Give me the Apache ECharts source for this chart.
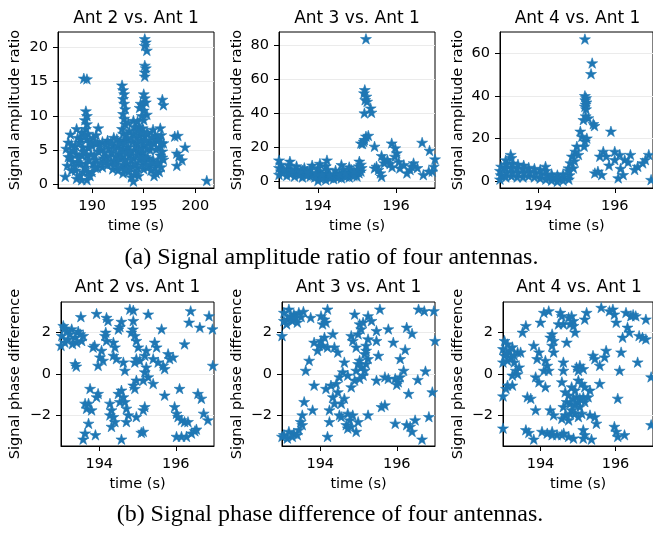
<!DOCTYPE html>
<html><head><meta charset="utf-8">
<script src="https://cdn.jsdelivr.net/npm/echarts@6/dist/echarts.min.js"></script>
<style>html,body{margin:0;padding:0;background:#fff}#c{width:653px;height:536px}</style>
</head><body><div id="c"></div>
<script>
const titles = ['Ant 2 vs. Ant 1','Ant 3 vs. Ant 1','Ant 4 vs. Ant 1'];
const captions = ['(a) Signal amplitude ratio of four antennas.','(b) Signal phase difference of four antennas.'];
const xLabel = 'time (s)';
const yLabels = ['Signal amplitude ratio','Signal phase difference'];
const xTicksWide = [190,195,200];
const xTicks = [194,196];
const yTicksAmp2 = [0,5,10,15,20];
const yTicksAmp3 = [0,20,40,60,80];
const yTicksAmp4 = [0,20,40,60];
const yTicksPhase = [-2,0,2];

const amp2 = [
[187.4,1.1],[189.2,15.5],[189.5,15.4],[195.1,21.3],[195.2,20.8],[195.1,20.3],[195.3,19.6],[195.1,17.4],[195.2,17.0],[195.1,16.4],[195.1,15.8],[196.8,12.4],[196.9,11.6],[198.0,7.0],[198.3,7.1],[199.0,5.4],[198.2,4.5],[198.4,4.1],[198.7,3.5],[198.2,2.7],[201.1,0.5],
[192.9,14.5],[193.0,13.8],[193.1,13.2],[193.0,12.5],[193.1,11.8],[193.2,11.0],[193.0,10.3],[193.1,9.6],[193.2,8.8],[192.9,8.1],
[195.0,13.2],[195.1,12.6],[195.2,12.0],[194.9,11.5],[195.0,10.8],[194.7,11.8],[194.6,11.2],[195.3,10.2],[194.8,10.0],[195.0,9.4],[194.4,9.2],
[189.4,10.7],[189.5,10.0],[189.3,9.4],[189.5,8.8],[189.4,8.1],[194.0,9.3],[193.5,9.0],
[187.6,2.7],[187.7,4.0],[187.5,5.2],[187.7,6.1],
[188.0,2.0],[188.1,3.3],[187.9,4.6],[188.0,5.8],[187.9,7.3],
[188.5,0.8],[188.4,2.0],[188.6,3.2],[188.5,4.4],[188.4,5.6],[188.6,6.8],[188.5,8.1],
[189.0,0.6],[189.1,1.8],[188.9,3.0],[189.0,4.2],[189.1,5.4],[188.9,6.6],[189.0,7.6],
[189.5,0.6],[189.6,1.8],[189.4,3.0],[189.5,4.2],[189.6,5.4],[189.5,6.6],[189.6,7.4],
[190.0,1.8],[190.1,3.0],[189.9,4.4],[190.0,5.6],[190.1,6.8],
[190.5,2.4],[190.4,3.6],[190.6,4.8],[190.5,6.0],[190.4,7.2],[190.6,8.2],
[191.0,2.5],[191.1,3.8],[190.9,5.0],[191.0,6.2],
[191.5,2.8],[191.4,4.0],[191.6,5.2],[191.5,6.4],
[192.0,2.2],[192.1,3.4],[191.9,4.6],[192.0,5.8],[192.1,6.8],
[192.5,2.0],[192.4,3.2],[192.6,4.4],[192.5,5.6],[192.4,6.6],
[193.0,1.6],[193.1,2.8],[192.9,4.0],[193.0,5.2],[193.1,6.4],[193.0,7.4],
[193.5,1.8],[193.4,3.0],[193.6,4.2],[193.5,5.4],[193.4,6.6],[193.6,7.8],
[194.0,0.4],[194.1,1.4],[193.9,2.6],[194.0,3.8],[194.1,5.0],[193.9,6.2],[194.0,7.4],[194.1,8.4],
[194.5,1.2],[194.4,2.4],[194.6,3.6],[194.5,4.8],[194.4,6.0],[194.6,7.2],[194.5,8.4],
[195.0,2.2],[195.1,3.4],[194.9,4.6],[195.0,5.8],[195.1,7.0],[194.9,8.2],
[195.5,2.6],[195.4,3.8],[195.6,5.0],[195.5,6.2],[195.4,7.4],
[196.0,1.2],[196.1,2.4],[195.9,3.6],[196.0,6.0],[196.1,7.2],[195.9,8.0],
[196.5,1.8],[196.4,3.0],[196.6,4.2],[196.5,5.4],[196.4,6.6],[196.6,8.2],
[196.9,3.6],[196.8,4.8],[196.9,6.0],
[187.9,3.9],[188.3,2.6],[188.2,5.0],[188.8,1.2],[188.7,3.8],[188.8,6.1],[189.3,2.4],[189.2,4.8],[189.3,7.0],[189.8,1.2],[189.7,3.6],[189.8,6.0],[190.3,2.4],[190.2,4.2],[190.3,6.2],[190.8,3.1],[190.7,5.5],[191.3,3.3],[191.2,4.6],[191.3,5.8],[191.8,3.0],[191.7,4.1],[191.8,6.0],[192.2,2.8],[192.3,4.0],[192.2,5.2],[192.8,2.4],[192.7,3.8],[192.8,5.0],[192.7,6.1],[193.3,2.2],[193.2,3.5],[193.3,4.7],[193.2,6.0],[193.3,7.2],[193.8,1.0],[193.7,2.4],[193.8,3.6],[193.7,4.8],[193.8,6.8],[194.3,1.8],[194.2,3.0],[194.3,4.3],[194.2,5.5],[194.3,6.8],[194.3,7.9],[194.8,2.8],[194.7,4.0],[194.8,5.3],[194.7,6.5],[194.8,7.6],[195.3,2.8],[195.2,4.0],[195.3,5.2],[195.2,6.4],[195.3,7.6],[195.7,2.0],[195.8,3.2],[195.7,5.6],[195.8,6.8],[196.2,1.6],[196.3,3.2],[196.2,5.1],[196.3,6.4],[196.7,2.5],[196.8,3.9],[196.7,6.0],[196.7,7.2]
];

const amp3 = [
[195.23,83.9],[195.2,53.9],[195.18,52.0],[195.24,50.0],[195.21,48.0],[195.26,47.0],[195.19,40.2],[195.37,40.6],[195.35,43.1],
[195.1,22.5],[195.17,23.5],[195.23,26.5],[195.29,27.0],[195.19,24.5],[195.14,22.2],[195.45,20.6],[195.63,15.1],[195.7,12.7],[195.89,22.5],[196.02,16.7],[195.98,19.6],[195.7,10.8],[195.78,12.7],[195.5,8.8],[195.55,6.9],[195.63,2.9],[195.6,4.9],[195.45,7.8],
[196.67,22.9],[196.86,18.2],[197.0,13.1],[196.45,10.8],[196.36,6.9],[196.28,4.9],[196.1,7.8],[196.2,9.8],[196.07,11.5],[196.7,3.9],[196.84,5.9],[196.93,5.9],[196.97,8.8],[195.97,14.7],[195.85,10.5],[196.55,8.0],[195.9,8.5],[196.4,8.8],
[193.0,4.0],[193.05,6.0],[193.0,8.0],[193.05,10.0],[193.0,12.5],
[193.2,3.5],[193.25,5.5],[193.2,7.5],[193.25,9.5],[193.28,11.8],
[193.4,3.0],[193.45,5.0],[193.4,7.0],[193.45,9.0],
[193.6,2.5],[193.65,4.5],[193.6,6.5],[193.65,8.0],
[193.8,3.0],[193.85,5.0],[193.8,7.0],[193.85,9.5],
[194.0,0.5],[194.05,2.0],[194.0,4.0],[194.05,6.0],[194.0,8.0],[194.05,10.5],
[194.2,1.0],[194.25,3.0],[194.2,5.0],[194.25,7.0],[194.2,9.0],[194.23,12.5],
[194.4,1.5],[194.45,3.0],[194.4,4.5],[194.45,6.5],
[194.6,2.0],[194.65,3.5],[194.6,5.0],[194.65,7.0],[194.6,9.8],
[194.8,2.5],[194.85,4.0],[194.8,5.5],[194.85,7.0],[194.8,8.5],
[195.0,3.0],[195.05,5.0],[195.0,7.0],[195.05,9.0],[195.06,11.8],
[195.1,6.0],[195.12,8.0],[195.1,10.0],
[193.1,5.0],[193.12,7.0],[193.3,4.4],[193.33,6.5],[193.52,3.8],[193.55,6.0],[193.72,3.6],[193.73,6.0],[193.92,2.5],[193.95,5.0],[194.12,2.0],[194.1,4.2],[194.32,2.2],[194.3,4.0],[194.52,2.5],[194.55,4.2],[194.72,3.0],[194.7,5.0],[194.92,3.5],[194.92,6.0]
];

const amp4 = [
[195.22,66.5],[195.41,55.3],[195.38,50.3],[195.22,40.0],[195.25,39.0],[195.23,38.0],[195.26,37.0],[195.24,36.0],[195.22,35.0],[195.25,33.8],[195.18,28.8],[195.31,29.6],[195.24,30.5],[195.47,26.0],[195.44,26.9],[195.1,23.4],[195.14,21.0],[195.27,20.2],[195.2,16.4],[195.22,18.7],[195.01,16.4],[194.97,14.0],[194.88,11.7],[194.84,8.6],[194.79,6.2],[194.92,6.2],[194.95,9.5],[195.05,12.5],
[195.9,23.4],[195.7,14.0],[195.78,11.7],[195.61,11.7],[195.48,3.9],[195.56,4.7],[195.66,3.1],[196.0,14.0],[196.13,12.5],[196.0,10.1],[196.26,10.1],[196.41,12.5],[196.35,9.0],[196.09,1.6],[196.22,3.1],[196.6,7.0],[196.73,8.6],[196.8,10.1],[196.89,12.5],[196.95,0.8],[196.52,5.5],[195.85,7.5],[196.15,6.0],
[193.0,1.0],[193.02,3.0],[193.0,5.0],[193.03,7.0],
[193.15,2.0],[193.17,4.0],[193.15,6.0],[193.17,8.0],[193.15,10.0],
[193.3,2.5],[193.32,4.5],[193.3,6.5],[193.32,8.5],[193.3,11.0],[193.28,12.5],
[193.45,2.0],[193.47,4.0],[193.45,6.0],[193.47,8.0],
[193.6,2.0],[193.62,4.0],[193.6,6.0],[193.62,7.5],
[193.75,2.5],[193.77,4.5],[193.75,6.5],
[193.9,2.0],[193.92,4.0],[193.9,6.0],
[194.05,1.5],[194.07,3.5],[194.05,5.5],
[194.2,1.0],[194.22,3.0],[194.2,5.0],[194.19,7.0],
[194.35,0.5],[194.37,2.0],[194.35,3.5],
[194.5,0.0],[194.52,1.5],[194.5,3.0],
[194.65,0.5],[194.67,2.0],[194.65,3.5],
[194.8,1.0],[194.82,3.0],[194.8,5.0]
];

const ph2 = [
[193.06,2.32],[193.15,2.08],[193.02,1.84],[193.23,1.92],[193.37,1.76],[193.5,1.92],[193.54,1.6],[193.28,2.16],[193.1,1.52],[193.41,1.52],[193.0,1.37],[193.19,1.68],[193.58,1.84],[193.1,2.2],[193.3,1.45],[193.45,2.05],
[193.37,0.49],[193.4,0.37],[193.52,2.75],[193.93,2.9],[194.19,2.71],[194.23,2.56],[194.54,2.27],[194.58,2.52],[194.5,2.15],[194.8,3.11],[194.89,3.06],[194.89,2.56],[194.84,2.0],[194.93,1.84],[194.88,2.15],[195.28,2.87],[195.63,2.16],[196.39,3.03],[196.35,2.48],[196.63,2.24],[196.87,2.79],[196.96,2.16],[196.97,0.41],[196.23,1.44],
[193.84,1.29],[193.88,1.37],[194.15,1.84],[194.19,1.6],[194.17,2.0],[194.06,1.13],[194.02,0.81],[194.1,0.65],[193.97,0.41],[194.37,1.52],[194.41,1.29],[194.37,0.89],[194.45,0.73],[194.63,0.57],[194.67,0.17],[194.97,1.6],[195.02,1.29],[194.97,0.73],[195.06,0.65],[194.93,0.57],[195.23,1.13],[195.19,0.89],[195.45,1.52],[195.5,1.29],[195.41,0.73],[195.54,0.57],[195.23,0.33],[195.19,0.1],[195.28,-0.14],[195.15,-0.3],[195.8,0.97],[195.84,0.73],[195.67,0.41],[195.71,0.25],[195.93,0.81],
[194.97,-0.3],[194.93,-0.7],[194.89,-0.54],[195.41,-0.46],[195.71,-1.02],[196.1,-0.7],[193.76,-0.7],[193.97,-0.94],[193.93,-1.1],[193.72,-1.41],[193.67,-1.65],[193.8,-1.73],[193.63,-1.41],[194.5,-0.94],[194.58,-0.78],[194.63,-1.1],[194.54,-1.33],[194.67,-1.33],[194.28,-1.41],[194.32,-1.73],[194.37,-2.05],[194.41,-2.29],[194.71,-1.65],[194.76,-1.97],[194.71,-2.29],[194.97,-2.05],[195.15,-1.73],[195.19,-1.57],[194.28,-1.97],[193.72,-2.37],[194.32,-2.52],[193.63,-2.84],[193.58,-3.13],[193.9,-2.92],[194.58,-3.13],[195.1,-2.81],[195.15,-2.76],[195.97,-1.57],[196.02,-1.89],[196.06,-2.05],[196.15,-2.21],[196.23,-2.29],[196.32,-2.29],[196.02,-3.0],[196.15,-3.0],[196.28,-3.0],[196.41,-2.84],[196.5,-2.73],[196.54,-2.65],[196.58,-0.94],[196.67,-1.17],[196.73,-1.89],[196.84,-2.21]
];

const ph3 = [
[193.05,2.95],[193.18,3.11],[193.31,2.87],[193.44,2.95],[193.56,3.0],[193.14,2.63],[193.27,2.56],[193.4,2.48],[193.05,2.56],[193.22,2.79],[193.0,1.84],[193.12,2.4],[193.35,2.7],[193.5,2.75],
[193.75,2.71],[194.19,3.11],[194.02,2.79],[194.15,2.48],[194.06,2.4],[194.11,2.63],
[193.84,1.52],[193.93,1.13],[194.02,1.6],[194.11,1.76],[194.06,1.37],[193.97,1.37],[194.19,1.29],[194.33,1.92],[194.37,1.29],[194.46,1.05],
[193.71,0.65],[193.62,0.17],[193.84,-0.54],[193.58,-1.33],[193.53,-1.97],[193.49,-2.29],[193.8,-1.73],
[193.05,-2.92],[193.18,-2.76],[193.31,-2.84],[193.44,-2.68],[193.14,-3.08],[193.27,-3.0],[193.4,-2.92],[193.53,-2.44],[193.0,-3.0],
[194.19,-3.0],[194.24,-2.29],[194.5,-1.97],[194.24,-1.73],[194.37,-1.41],[194.33,-1.1],[194.46,-0.86],[194.15,-0.7],[194.28,-0.54],[194.42,-0.46],[194.55,-1.41],[194.63,-1.17],[194.72,-1.89],[194.77,-2.21],[194.68,-2.44],[194.81,-2.52],[194.72,-2.6],[194.55,-2.05],[194.99,-2.29],[194.85,-1.97],[194.94,-2.76],[195.25,-1.97],
[194.59,0.1],[194.63,0.57],[194.5,-0.14],[194.72,-0.06],[194.81,-0.62],[194.9,-0.3],[194.94,0.17],[194.99,0.49],[195.03,0.65],[195.07,0.33],[195.16,0.17],[195.2,0.49],[195.12,-0.06],[195.03,-0.22],[195.25,0.73],[195.16,0.97],[195.2,1.13],
[194.81,1.84],[194.85,1.6],[194.94,1.29],[194.99,1.92],[195.07,2.16],[195.03,2.4],[195.12,2.48],[194.9,2.87],[195.25,2.79],[195.34,2.56],[195.47,2.08],[195.56,3.11],[195.25,1.68],[195.47,1.6],[195.2,1.37],[195.52,0.89],[195.47,-0.3],[195.69,-0.14],[195.78,-0.22],[195.6,-1.57],[195.69,-1.49],[195.78,2.16],[195.91,1.52],[196.09,0.73],[196.18,0.17],[195.96,-0.22],[196.04,-0.38],[196.09,-0.14],[196.0,-0.5],[195.96,-2.37],[196.26,2.24],[196.4,1.95],[196.22,1.17],[196.31,-0.94],[196.26,-2.44],[196.35,-2.52],[196.4,-2.76],[196.48,-2.21],[196.55,-0.27],[196.57,3.11],[196.72,3.03],[196.75,0.14],[196.66,-3.13],[196.84,-2.05],[196.93,-0.86],[196.97,3.03],[197.0,1.6]
];

const ph4 = [
[193.04,1.6],[193.12,1.44],[193.0,1.21],[193.17,1.13],[193.04,0.89],[193.21,0.81],[193.39,1.05],[193.47,1.05],[193.3,0.57],[193.43,0.33],[193.34,0.17],[193.39,0.0],[193.25,-0.06],[193.12,0.65],[193.0,0.57],[193.25,1.3],[193.1,1.0],[193.3,0.9],
[193.12,-0.54],[193.08,-0.7],[193.25,-0.54],[193.0,-1.06],[193.0,-2.6],[193.52,2.0],[193.61,2.32],[193.65,-1.1],[193.74,-1.17],[193.87,-1.73],[193.61,-2.68],[193.69,-2.81],[193.82,-3.13],
[193.82,1.37],[193.96,1.05],[193.91,0.73],[193.87,-0.14],[193.96,-0.38],[194.13,-0.62],
[194.04,-2.76],[194.18,-2.84],[194.31,-2.92],[194.44,-2.92],[194.57,-2.92],[194.75,-3.0],[194.88,-3.08],[194.31,-2.76],[194.62,-2.84],
[194.26,-1.73],[194.35,-1.97],[194.09,2.95],[194.22,3.03],[194.0,2.48],[194.26,1.76],[194.31,1.92],[194.35,1.6],[194.13,0.65],[194.18,0.41],[194.22,0.17],[194.09,0.17],[194.31,1.37],[194.35,1.05],
[194.53,2.95],[194.57,2.79],[194.48,2.4],[194.61,2.4],[194.75,2.71],[194.83,2.79],[194.88,2.56],[194.79,2.4],[194.88,2.32],[194.92,2.0],[194.7,1.52],[194.61,0.57],[194.61,0.17],[194.57,-0.38],
[194.66,-0.86],[194.75,-1.02],[194.7,-1.33],[194.79,-1.41],[194.61,-1.57],[194.66,-1.97],[194.57,-2.13],[194.75,-2.21],[194.79,-1.89],[194.83,-0.62],[194.92,-0.78],[194.88,-1.17],[194.96,-1.1],[195.01,-1.33],[194.92,-1.49],[195.05,-1.17],[195.14,-1.1],[195.05,-1.57],[195.18,-1.33],
[194.96,0.33],[195.01,0.17],[195.05,0.41],[195.14,0.25],[195.01,-0.3],[195.1,-0.46],[195.18,-0.62],[194.83,-1.73],[194.92,-1.89],[195.01,-2.05],[195.1,-1.89],[195.14,-2.68],[195.18,-2.92],[195.36,-3.13],[195.14,-3.08],[195.18,2.63],[195.23,2.95],[195.4,0.89],[195.45,0.73],[195.32,-0.78],[195.27,-1.1],[195.32,-1.97],[195.45,-2.05],[195.49,-2.37],[195.58,-0.46],
[195.62,3.19],[195.84,3.03],[195.97,2.87],[195.93,3.11],[196.02,2.48],[195.75,1.13],[195.71,0.81],[195.58,0.41],[196.06,-1.17],[195.97,-2.52],[196.02,-2.76],[196.06,-3.0],[196.24,-2.92],[196.11,0.17],[196.15,1.05],[196.19,1.76],[196.28,2.95],[196.41,2.79],[196.54,2.79],[196.47,2.85],[196.32,2.24],[196.37,2.0],[196.59,0.57],[196.63,1.84],[196.72,1.76],[196.81,1.68],[196.81,2.63],[196.95,-0.14],[196.95,-2.44]
];

const FONT = "'DejaVu Sans', sans-serif";
const SERIF = "'Liberation Serif', 'Times New Roman', serif";
const STAR = 'path://M0,-100L-22.45,-30.9L-95.11,-30.9L-36.33,11.8L-58.78,80.9L0,38.2L58.78,80.9L36.33,11.8L95.11,-30.9L22.45,-30.9Z';

const panels = [
  {grid:{left:58,top:32,width:156,height:156}, x:[186.7,201.8], y:[-0.6,22.3], xt:xTicksWide, yt:yTicksAmp2, data:amp2, t:0, yl:0, gap:35.5},
  {grid:{left:279,top:32,width:156,height:156}, x:[193,197], y:[-3.9,87.9], xt:xTicks, yt:yTicksAmp3, data:amp3, t:1, yl:0, gap:34.3},
  {grid:{left:500,top:32,width:155,height:156}, x:[193,197], y:[-3.1,69.8], xt:xTicks, yt:yTicksAmp4, data:amp4, t:2, yl:0, gap:34.7},
  {grid:{left:61,top:302,width:153,height:144}, x:[193,197], y:[-3.456,3.456], xt:xTicks, yt:yTicksPhase, data:ph2, t:0, yl:1, gap:38.2},
  {grid:{left:282,top:302,width:153,height:144}, x:[193,197], y:[-3.456,3.456], xt:xTicks, yt:yTicksPhase, data:ph3, t:1, yl:1, gap:37.6},
  {grid:{left:503,top:302,width:152,height:144}, x:[193,197], y:[-3.456,3.456], xt:xTicks, yt:yTicksPhase, data:ph4, t:2, yl:1, gap:37.3}
];

const fmt = v => (v < 0 ? '\u2212' + Math.abs(v) : String(v));
const grids = [], xAxes = [], yAxes = [], series = [], graphics = [];
panels.forEach((p, i) => {
  grids.push(Object.assign({show:true, borderColor:'#000', borderWidth:1, backgroundColor:'transparent', containLabel:false}, p.grid));
  xAxes.push({
    type:'value', gridIndex:i, min:p.x[0], max:p.x[1],
    name:xLabel, nameLocation:'middle', nameGap:31,
    nameTextStyle:{fontFamily:FONT, fontSize:14.5, color:'#000'},
    axisLine:{show:true, onZero:false, lineStyle:{color:'#000', width:1}},
    axisTick:{show:true, inside:false, length:5, lineStyle:{color:'#000', width:1}, customValues:p.xt},
    axisLabel:{fontFamily:FONT, fontSize:14.5, color:'#000', margin:11, customValues:p.xt, formatter:fmt},
    splitLine:{show:false}
  });
  yAxes.push({
    type:'value', gridIndex:i, min:p.y[0], max:p.y[1],
    name:yLabels[p.yl], nameLocation:'middle', nameGap:p.gap,
    nameTextStyle:{fontFamily:FONT, fontSize:14.5, color:'#000'},
    axisLine:{show:true, onZero:false, lineStyle:{color:'#000', width:1}},
    axisTick:{show:true, inside:false, length:5, lineStyle:{color:'#000', width:1}, customValues:p.yt},
    axisLabel:{fontFamily:FONT, fontSize:14.5, color:'#000', margin:10, customValues:p.yt, formatter:fmt},
    splitLine:{show:true, lineStyle:{color:'#ebebeb', width:1}}
  });
  series.push({
    type:'scatter', xAxisIndex:i, yAxisIndex:i, data:p.data,
    symbol:STAR, symbolSize:[11,10.5], clip:true,
    itemStyle:{color:'#1f77b4', borderColor:'#1f77b4', borderWidth:0.6, opacity:1}, silent:true
  });
  graphics.push({
    type:'text', x:p.grid.left + p.grid.width/2, y:(p.grid.top < 100 ? 19 : 288),
    style:{text:titles[p.t], fontFamily:FONT, fontSize:17, fill:'#000', align:'center', verticalAlign:'middle'}
  });
});
[[331.5,257.7],[330,514.4]].forEach((c, k) => {
  graphics.push({
    type:'text', x:c[0], y:c[1],
    style:{text:captions[k], fontFamily:SERIF, fontSize:24, fill:'#000', align:'center', verticalAlign:'middle'}
  });
});

const chart = echarts.init(document.getElementById('c'), null, {renderer:'canvas'});
chart.setOption({
  animation:false,
  backgroundColor:'#fff',
  grid:grids, xAxis:xAxes, yAxis:yAxes, series:series,
  graphic:{elements:graphics}
});
</script>
</body></html>
